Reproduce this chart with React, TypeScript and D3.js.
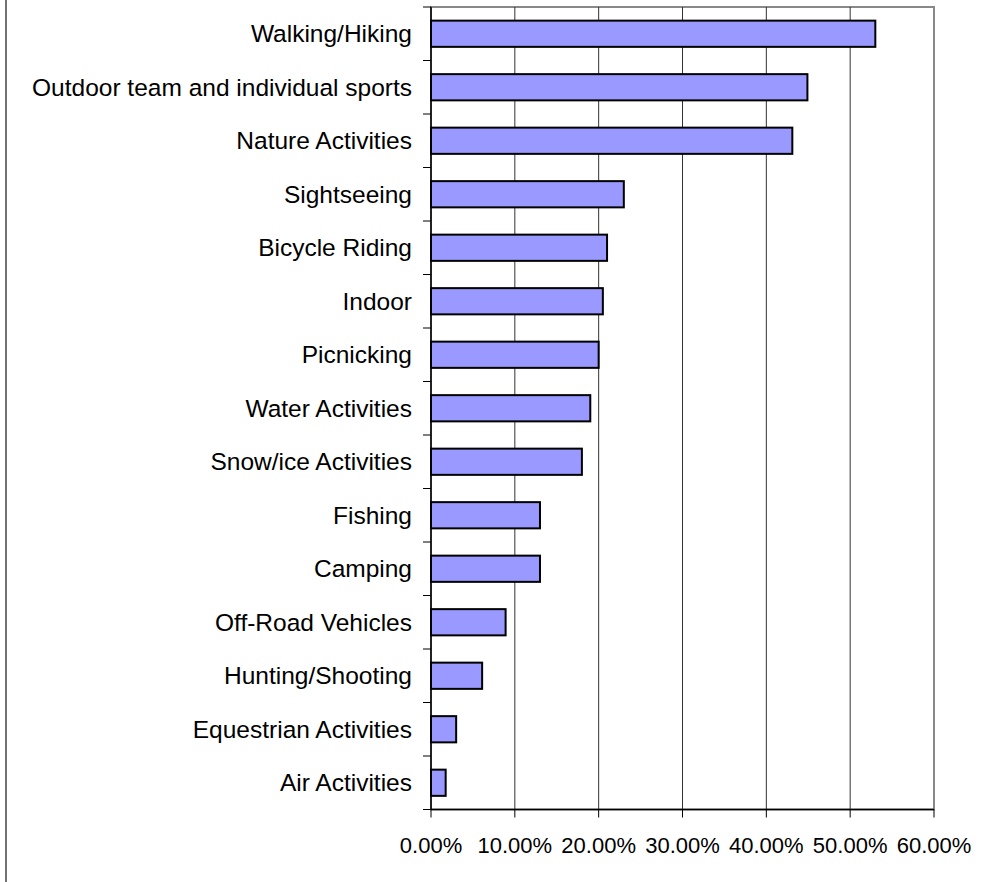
import { useRef, useEffect } from "react";
import * as d3 from "d3";

const categories = [
  "Walking/Hiking",
  "Outdoor team and individual sports",
  "Nature Activities",
  "Sightseeing",
  "Bicycle Riding",
  "Indoor",
  "Picnicking",
  "Water Activities",
  "Snow/ice Activities",
  "Fishing",
  "Camping",
  "Off-Road Vehicles",
  "Hunting/Shooting",
  "Equestrian Activities",
  "Air Activities",
];

const values = [53.0, 44.9, 43.1, 23.0, 21.0, 20.5, 20.0, 19.0, 18.0, 13.0, 13.0, 8.9, 6.1, 3.0, 1.75];

const xTicks = [0, 10, 20, 30, 40, 50, 60];

const App = () => {
  const svgRef = useRef<SVGSVGElement | null>(null);

  useEffect(() => {
    const svg = d3.select(svgRef.current);
    svg.selectAll("*").remove();

    const width = 985;
    const height = 882;
    const margin = { top: 7, right: 51, bottom: 72.5, left: 431 };
    const innerW = width - margin.left - margin.right;
    const innerH = height - margin.top - margin.bottom;
    const font = "'Liberation Sans', Arial, sans-serif";

    // outer chart border, only the left edge shows
    svg
      .append("rect")
      .attr("x", 6)
      .attr("y", -10)
      .attr("width", 1200)
      .attr("height", 1000)
      .attr("fill", "none")
      .attr("stroke", "#444")
      .attr("stroke-width", 1.5);

    const x = d3.scaleLinear().domain([0, 60]).range([0, innerW]);
    const y = d3.scaleBand().domain(categories).range([0, innerH]).padding(0);

    const g = svg.append("g").attr("transform", `translate(${margin.left},${margin.top})`);

    // plot area frame
    g.append("rect")
      .attr("x", 0)
      .attr("y", 0)
      .attr("width", innerW)
      .attr("height", innerH)
      .attr("fill", "white")
      .attr("stroke", "#888")
      .attr("stroke-width", 2);

    // gridlines
    g.selectAll(".grid")
      .data(xTicks.slice(1, -1))
      .enter()
      .append("line")
      .attr("x1", (d) => x(d))
      .attr("x2", (d) => x(d))
      .attr("y1", 0)
      .attr("y2", innerH)
      .attr("stroke", "#333")
      .attr("stroke-width", 1);

    const data = categories.map((c, i) => ({ name: c, value: values[i] }));
    const barH = y.bandwidth() * 0.49;

    g.selectAll(".bar")
      .data(data)
      .enter()
      .append("rect")
      .attr("class", "bar")
      .attr("x", 0)
      .attr("y", (d) => (y(d.name) as number) + (y.bandwidth() - barH) / 2)
      .attr("width", (d) => x(d.value))
      .attr("height", barH)
      .attr("fill", "#9999ff")
      .attr("stroke", "black")
      .attr("stroke-width", 2);

    // y axis
    const yAxis = g.append("g");
    yAxis
      .append("line")
      .attr("x1", 0)
      .attr("x2", 0)
      .attr("y1", 0)
      .attr("y2", innerH)
      .attr("stroke", "black")
      .attr("stroke-width", 1.5);
    yAxis
      .selectAll(".ytick")
      .data(d3.range(categories.length + 1))
      .enter()
      .append("line")
      .attr("x1", -8)
      .attr("x2", 0)
      .attr("y1", (i) => i * y.step())
      .attr("y2", (i) => i * y.step())
      .attr("stroke", "black")
      .attr("stroke-width", 1);
    yAxis
      .selectAll(".ylabel")
      .data(categories)
      .enter()
      .append("text")
      .attr("x", -19)
      .attr("y", (d) => (y(d) as number) + y.bandwidth() / 2)
      .attr("dy", "0.34em")
      .attr("text-anchor", "end")
      .attr("font-family", font)
      .attr("font-size", 24.5)
      .attr("fill", "black")
      .text((d) => d);

    // x axis
    const xAxis = g.append("g").attr("transform", `translate(0,${innerH})`);
    xAxis
      .append("line")
      .attr("x1", 0)
      .attr("x2", innerW)
      .attr("stroke", "black")
      .attr("stroke-width", 1.5);
    xAxis
      .selectAll(".xtick")
      .data(xTicks)
      .enter()
      .append("line")
      .attr("x1", (d) => x(d))
      .attr("x2", (d) => x(d))
      .attr("y1", 0)
      .attr("y2", 8)
      .attr("stroke", "black")
      .attr("stroke-width", 1);
    xAxis
      .selectAll(".xlabel")
      .data(xTicks)
      .enter()
      .append("text")
      .attr("x", (d) => x(d))
      .attr("y", 43.5)
      .attr("text-anchor", "middle")
      .attr("font-family", font)
      .attr("font-size", 22)
      .attr("fill", "black")
      .text((d) => d.toFixed(2) + "%");
  }, []);

  return (
    <div style={{ position: "absolute", top: 0, left: 0, background: "white" }}>
      <svg ref={svgRef} width={985} height={882} style={{ display: "block" }}></svg>
    </div>
  );
};

export default App;
